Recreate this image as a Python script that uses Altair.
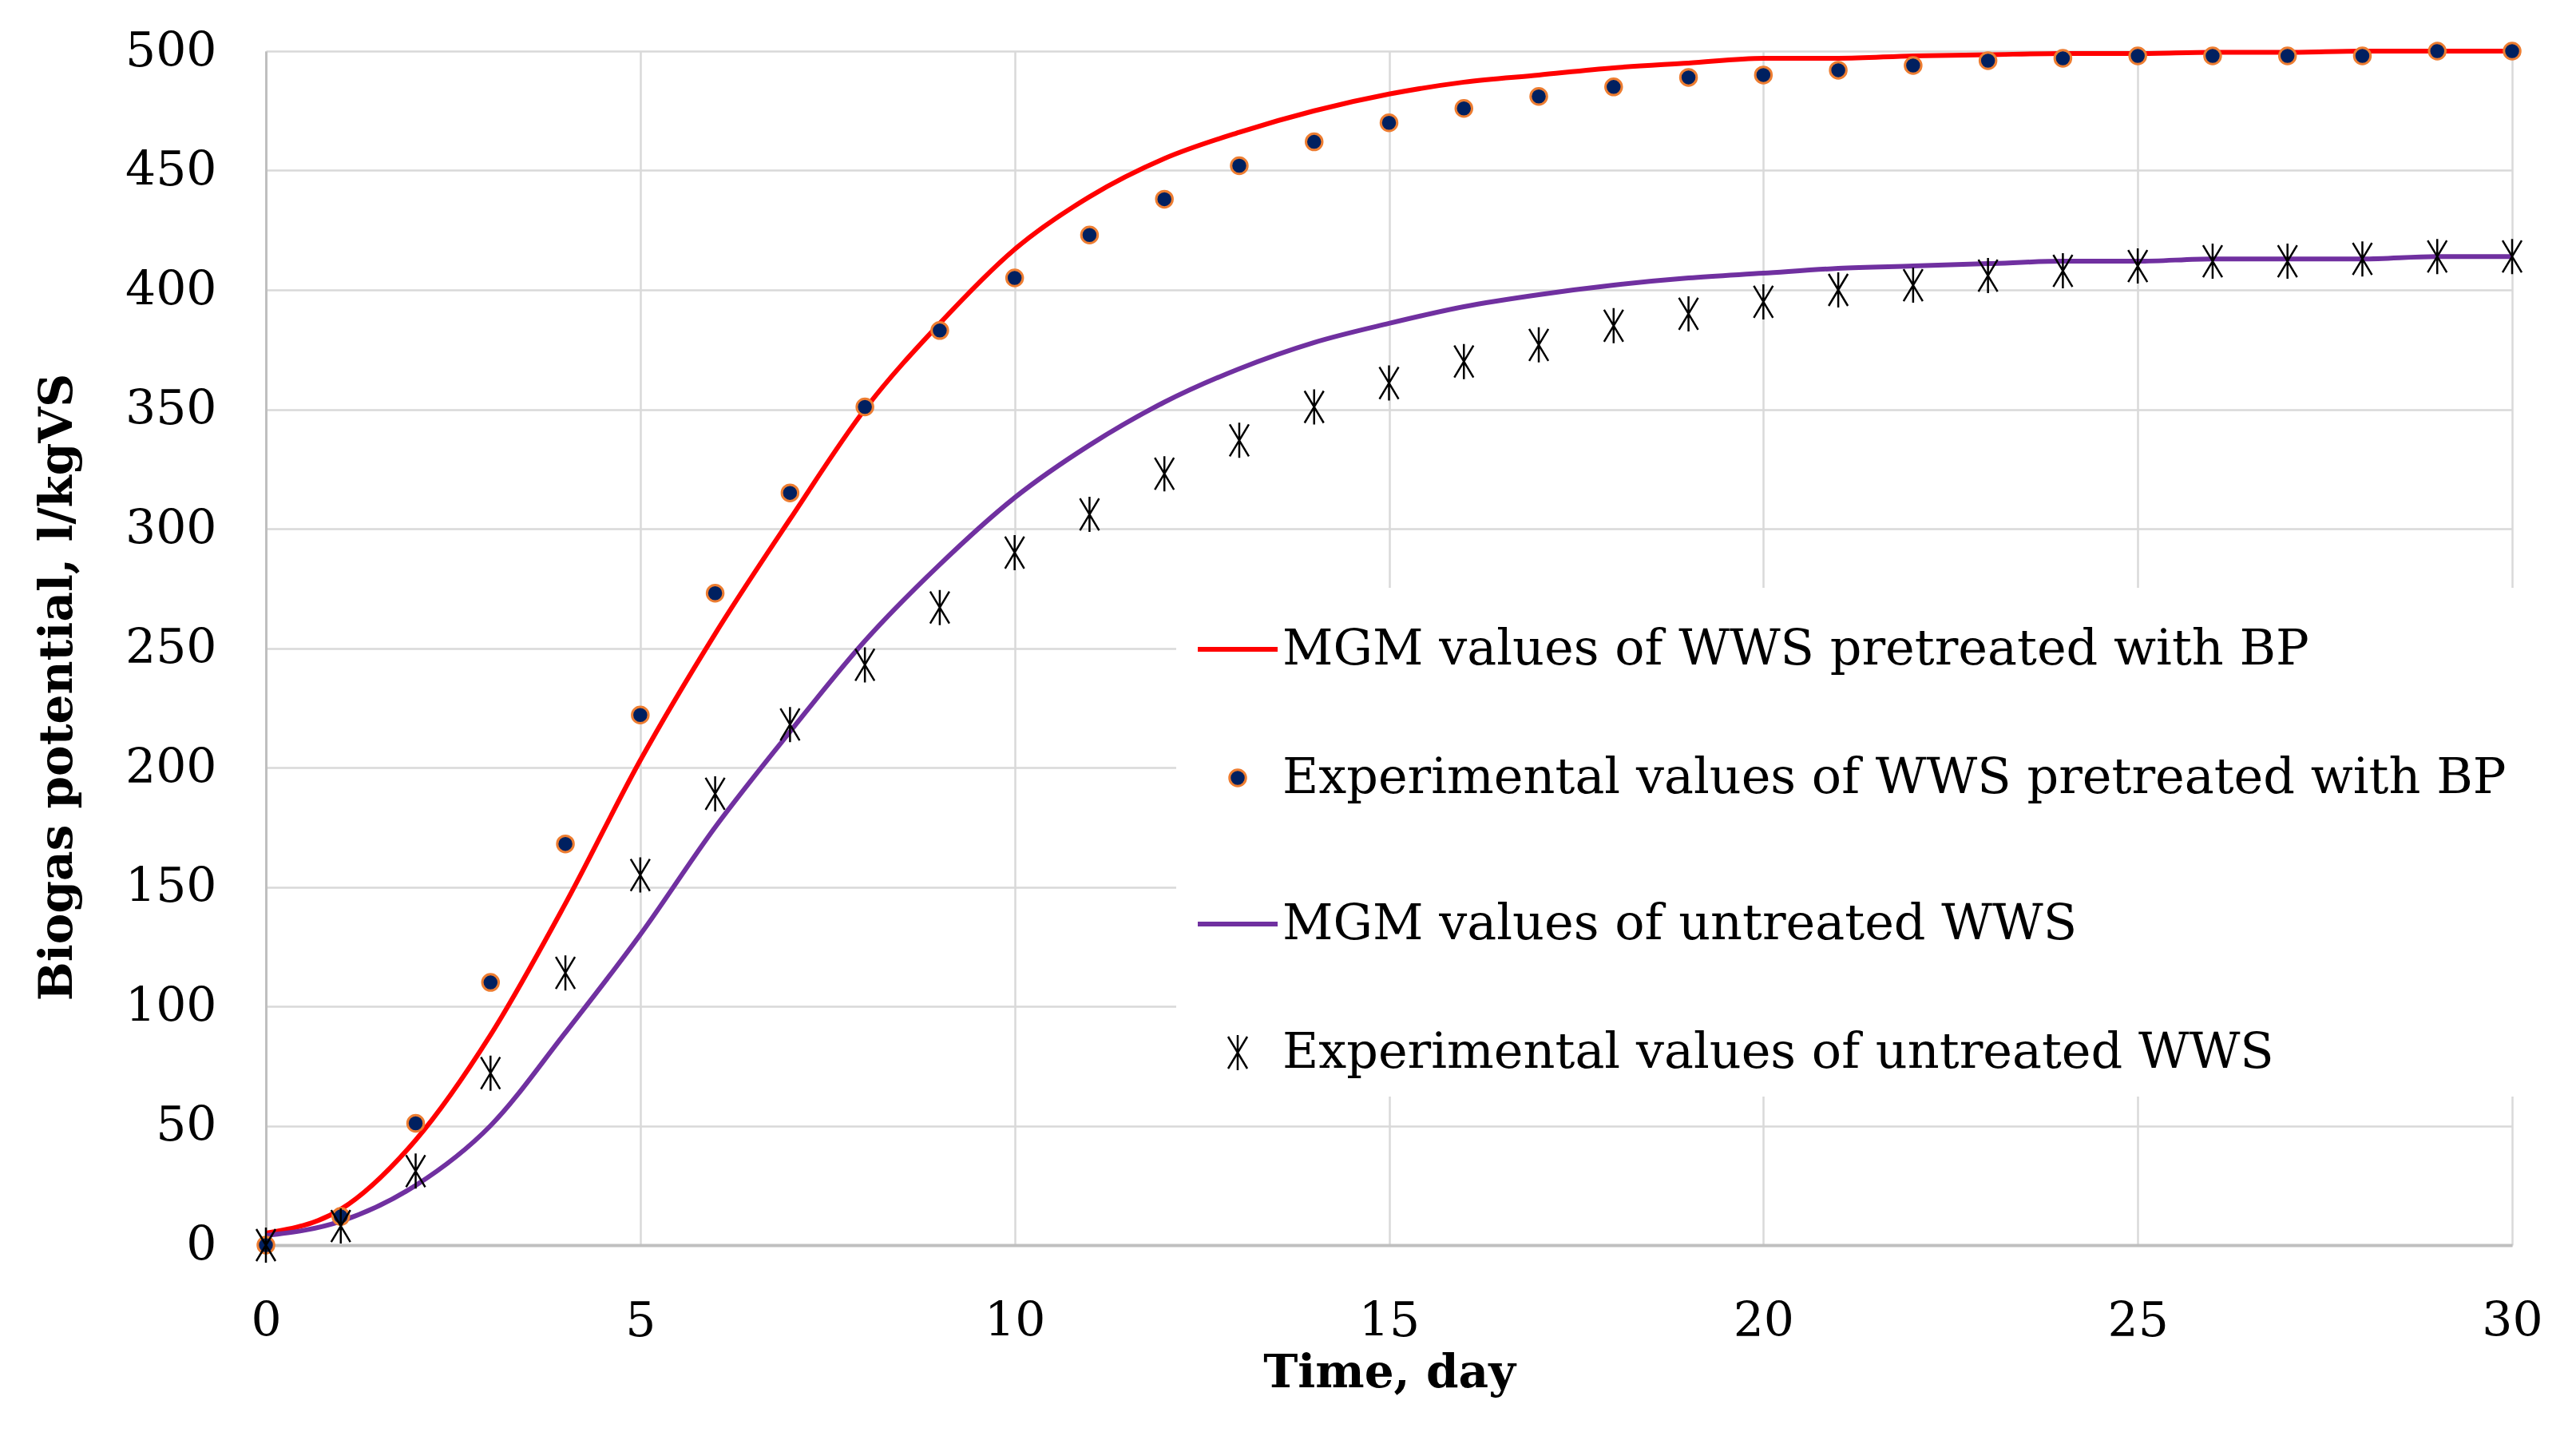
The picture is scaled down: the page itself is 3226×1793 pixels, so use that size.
import altair as alt
import pandas as pd

days = list(range(0, 31))

S1 = "MGM values of WWS pretreated with BP"
S2 = "Experimental values of WWS pretreated with BP"
S3 = "MGM values of untreated WWS"
S4 = "Experimental values of untreated WWS"

exp_bp = [0, 12, 51, 110, 168, 222, 273, 315, 351, 383, 405, 423, 438, 452, 462, 470,
          476, 481, 485, 489, 490, 492, 494, 496, 497, 498, 498, 498, 498, 500, 500]
exp_un = [0, 8, 31, 72, 114, 155, 189, 218, 243, 267, 290, 306, 323, 337, 351, 361,
          370, 377, 385, 390, 395, 400, 402, 406, 408, 410, 412, 412, 413, 414, 414]
mgm_bp = [5, 15, 44, 88, 143, 203, 256, 304, 350, 386, 417, 439, 455, 466, 475, 482,
          487, 490, 493, 495, 497, 497, 498, 498.5, 499, 499, 499.5, 499.5, 500, 500, 500]
mgm_un = [4, 10, 25, 50, 89, 130, 175, 215, 253, 285, 313, 335, 353, 367, 378, 386,
          393, 398, 402, 405, 407, 409, 410, 411, 412, 412, 413, 413, 413, 414, 414]

series_order = [S1, S2, S3, S4]

lines_df = pd.DataFrame(
    {"day": days * 2, "value": mgm_bp + mgm_un, "series": [S1] * 31 + [S3] * 31}
)
pts_df = pd.DataFrame(
    {"day": days * 2, "value": exp_bp + exp_un, "series": [S2] * 31 + [S4] * 31}
)

FONT = "DejaVu Serif"
star = "M-0.6,-1L0.6,1M0.6,-1L-0.6,1M0,-1.1L0,1.1"

stroke_scale = alt.Scale(domain=series_order, range=["#FF0000", "#ED7D31", "#7030A0", "#000000"])
fill_scale = alt.Scale(domain=series_order, range=["#FF0000", "#002060", "#7030A0", "transparent"])
shape_scale = alt.Scale(domain=series_order, range=["stroke", "circle", "stroke", star])
size_scale = alt.Scale(type="ordinal", domain=series_order, range=[10000, 420, 10000, 1600])
sw_scale = alt.Scale(type="ordinal", domain=series_order, range=[6, 3, 6, 2.5])

legend = alt.Legend(
    title=None,
    orient="none",
    legendX=1140,
    legendY=672,
    fillColor="white",
    padding=24,
    labelFont=FONT,
    labelFontSize=62,
    labelColor="black",
    labelLimit=0,
    labelOffset=3,
    rowPadding=99,
)

x_enc = alt.X(
    "day:Q",
    scale=alt.Scale(domain=[0, 30], nice=False),
    axis=alt.Axis(
        values=[0, 5, 10, 15, 20, 25, 30],
        title="Time, day",
        titleFont=FONT,
        titleFontSize=58,
        titleFontWeight="bold",
        titleY=160,
        titleBaseline="middle",
        labelFont=FONT,
        labelFontSize=60,
        labelColor="black",
        labelPadding=66,
        labelFlush=False,
        ticks=False,
        domainColor="#bfbfbf",
        domainWidth=4,
        gridColor="#d9d9d9",
        gridWidth=2.5,
    ),
)
y_enc = alt.Y(
    "value:Q",
    scale=alt.Scale(domain=[0, 500], nice=False),
    axis=alt.Axis(
        values=list(range(0, 501, 50)),
        title="Biogas potential, l/kgVS",
        titleFont=FONT,
        titleFontSize=58,
        titleFontWeight="bold",
        titleX=-261,
        titleY=796,
        titleAlign="center",
        titleBaseline="middle",
        titleAngle=270,
        labelFont=FONT,
        labelFontSize=60,
        labelColor="black",
        labelPadding=62,
        ticks=False,
        domainColor="#bfbfbf",
        domainWidth=3,
        gridColor="#d9d9d9",
        gridWidth=2.5,
    ),
)

lines = alt.Chart(lines_df).mark_line(interpolate="monotone").encode(
    x=x_enc,
    y=y_enc,
    stroke=alt.Stroke("series:N", scale=stroke_scale, legend=legend),
    strokeWidth=alt.StrokeWidth("series:N", scale=sw_scale, legend=legend),
    detail="series:N",
)

points = alt.Chart(pts_df).mark_point(filled=True, opacity=1).encode(
    x=x_enc,
    y=y_enc,
    stroke=alt.Stroke("series:N", scale=stroke_scale, legend=legend),
    fill=alt.Fill("series:N", scale=fill_scale, legend=legend),
    shape=alt.Shape("series:N", scale=shape_scale, legend=legend),
    size=alt.Size("series:N", scale=size_scale, legend=legend),
    strokeWidth=alt.StrokeWidth("series:N", scale=sw_scale, legend=legend),
)

chart = (
    alt.layer(lines, points)
    .properties(
        width=2813,
        height=1495,
        autosize="none",
        padding={"left": 325, "top": 56, "right": 70, "bottom": 200},
    )
    .configure_view(strokeWidth=0)
)

chart.save("out.html", embed_options={"renderer": "svg", "actions": False})
